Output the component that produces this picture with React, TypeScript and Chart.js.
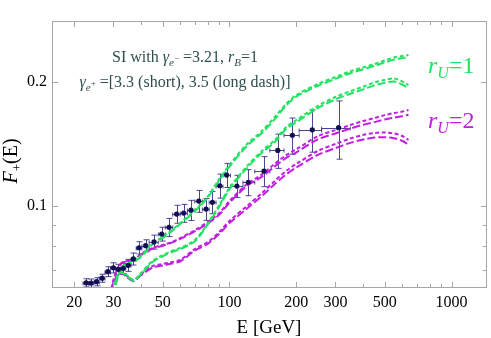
import React, { useEffect, useRef } from "react";
import { Chart, registerables } from "chart.js";

Chart.register(...registerables);

// ---- measured data (positron fraction) ----
const dataEnergy = [21.2, 22.6, 23.8, 25.2, 26.7, 28.3, 30.0, 31.6, 33.2, 35.0, 36.9, 39.1, 41.9, 45.7, 49.5, 53.4, 57.8, 62.2, 67.1, 72.7, 78.4, 83.8, 90.4, 97.1, 108, 121.5, 143, 165, 192, 236, 310];
const dataFraction = [0.0618, 0.0651, 0.065, 0.0655, 0.0668, 0.0693, 0.0708, 0.0702, 0.0706, 0.0718, 0.0744, 0.0792, 0.0801, 0.0818, 0.0855, 0.0888, 0.0956, 0.0961, 0.0977, 0.1028, 0.0983, 0.1021, 0.112, 0.1189, 0.1118, 0.1142, 0.1216, 0.1364, 0.1485, 0.1531, 0.1549];
const dataError = [0.0015, 0.0015, 0.0015, 0.0015, 0.0015, 0.0019, 0.002, 0.002, 0.002, 0.0024, 0.0025, 0.0027, 0.0027, 0.0032, 0.0033, 0.0045, 0.0048, 0.0048, 0.0055, 0.0063, 0.006, 0.0063, 0.0075, 0.008, 0.0069, 0.0083, 0.0102, 0.013, 0.015, 0.018, 0.025];
const binEdges = [20.4, 21.9, 23.2, 24.5, 25.9, 27.5, 29.1, 30.8, 32.4, 34.1, 36.0, 38.0, 40.3, 43.5, 47.8, 51.4, 55.5, 60.0, 64.6, 69.8, 75.5, 81.0, 87.0, 93.5, 101, 115, 130, 152, 176, 206, 260, 350];

// ---- model curves ----
const curveEnergy = [29, 30, 31, 32, 33, 35, 37, 40, 45, 50, 55, 60, 70, 80, 90, 100, 120, 140, 160, 180, 200, 250, 300, 350, 400, 450, 500, 550, 600, 640];
const greenUpperShort = [0.058, 0.0618, 0.0661, 0.0695, 0.0715, 0.0727, 0.0736, 0.0757, 0.0813, 0.0841, 0.0874, 0.0909, 0.0978, 0.1057, 0.1164, 0.1257, 0.1414, 0.152, 0.1645, 0.1769, 0.1859, 0.1977, 0.2056, 0.2122, 0.217, 0.2212, 0.2256, 0.2293, 0.2312, 0.2325];
const greenUpperLong = [0.057, 0.061, 0.0655, 0.069, 0.0711, 0.0723, 0.0732, 0.0753, 0.0808, 0.0836, 0.0869, 0.0904, 0.0972, 0.105, 0.1155, 0.1246, 0.14, 0.1503, 0.1625, 0.1754, 0.1843, 0.1958, 0.2035, 0.21, 0.2147, 0.2188, 0.223, 0.2266, 0.2285, 0.2298];
const greenLowerShort = [0.058, 0.0628, 0.0672, 0.0691, 0.0691, 0.0676, 0.0661, 0.0688, 0.0736, 0.076, 0.0778, 0.0791, 0.0828, 0.091, 0.1006, 0.1106, 0.125, 0.1359, 0.1446, 0.1555, 0.1617, 0.175, 0.1839, 0.1899, 0.1948, 0.1993, 0.2022, 0.204, 0.2006, 0.1966];
const greenLowerLong = [0.057, 0.062, 0.0666, 0.0687, 0.0687, 0.0672, 0.0657, 0.0684, 0.0731, 0.0755, 0.0773, 0.0786, 0.0822, 0.0903, 0.0998, 0.1097, 0.1238, 0.1346, 0.143, 0.1537, 0.1597, 0.1728, 0.1814, 0.1872, 0.1919, 0.1962, 0.199, 0.2006, 0.1972, 0.1932];
const magentaUpperShort = [0.0608, 0.0661, 0.0699, 0.0719, 0.0731, 0.0736, 0.074, 0.0765, 0.0791, 0.0804, 0.0818, 0.0836, 0.0874, 0.0915, 0.0962, 0.1028, 0.1131, 0.1193, 0.1266, 0.1329, 0.1373, 0.1477, 0.1528, 0.1572, 0.1608, 0.1635, 0.1662, 0.1681, 0.1695, 0.171];
const magentaUpperLong = [0.06, 0.0655, 0.0695, 0.0716, 0.0729, 0.0734, 0.0738, 0.0762, 0.0788, 0.0801, 0.0815, 0.0832, 0.0869, 0.0908, 0.0954, 0.1019, 0.1119, 0.1178, 0.1248, 0.1308, 0.135, 0.1451, 0.15, 0.1541, 0.1575, 0.1598, 0.1622, 0.1639, 0.1651, 0.1665];
const magentaLowerShort = [0.058, 0.0643, 0.068, 0.0688, 0.0688, 0.0672, 0.0661, 0.0684, 0.0715, 0.0723, 0.0731, 0.074, 0.0787, 0.0818, 0.0865, 0.092, 0.1, 0.1075, 0.1151, 0.1216, 0.1265, 0.136, 0.1414, 0.1458, 0.1487, 0.1504, 0.1508, 0.15, 0.1479, 0.1446];
const magentaLowerLong = [0.057, 0.0636, 0.0675, 0.0684, 0.0684, 0.0668, 0.0657, 0.0679, 0.0709, 0.0717, 0.0725, 0.0734, 0.078, 0.081, 0.0856, 0.0909, 0.0986, 0.1058, 0.1131, 0.1193, 0.124, 0.1331, 0.1382, 0.1423, 0.145, 0.1466, 0.1469, 0.1461, 0.144, 0.1407];

// ---- axes ----
const xMin = 15.87;
const xMax = 1445;
const yMin = 0.06324;
const yMax = 0.2812;
const xTickLabels = [20, 30, 50, 100, 200, 300, 500, 1000];
const xMinorTicks = [40, 60, 70, 80, 90, 400, 600, 700, 800, 900];
const yTickLabels = [0.1, 0.2];
const yMinorTicks = [0.07, 0.08, 0.09];

const GREEN = "#22e261";
const MAGENTA = "#c21ee2";
const NAVY = "#120e52";
const BAR = "rgba(48,38,128,0.85)";
const TEXT = "#2f4f4f";
const FRAME = "#a6a6a6";
const SERIF = '"Liberation Serif", "Times New Roman", serif';

type Seg = { t: string; size: number; italic?: boolean; dy?: number };

function font(s: Seg) {
  return `${s.italic ? "italic " : ""}${s.size}px ${SERIF}`;
}
function segsWidth(ctx: CanvasRenderingContext2D, segs: Seg[]) {
  let w = 0;
  for (const s of segs) {
    ctx.font = font(s);
    w += ctx.measureText(s.t).width;
  }
  return w;
}
function drawSegs(ctx: CanvasRenderingContext2D, segs: Seg[], x: number, y: number) {
  let cx = x;
  for (const s of segs) {
    ctx.font = font(s);
    ctx.fillText(s.t, cx, y + (s.dy || 0));
    cx += ctx.measureText(s.t).width;
  }
}

const decorPlugin = {
  id: "decor",
  beforeDatasetsDraw(chart: any) {
    const { ctx, chartArea: a } = chart;
    const xs = chart.scales.x;
    const ys = chart.scales.y;
    ctx.save();
    ctx.beginPath();
    ctx.rect(a.left, a.top, a.right - a.left, a.bottom - a.top);
    ctx.clip();
    ctx.strokeStyle = BAR;
    ctx.lineWidth = 1;
    for (let i = 0; i < dataEnergy.length; i++) {
      const px = Math.round(xs.getPixelForValue(dataEnergy[i])) + 0.5;
      const py = Math.round(ys.getPixelForValue(dataFraction[i])) + 0.5;
      const yt = ys.getPixelForValue(dataFraction[i] + dataError[i]);
      const yb = ys.getPixelForValue(dataFraction[i] - dataError[i]);
      const xl = xs.getPixelForValue(binEdges[i]);
      const xr = xs.getPixelForValue(binEdges[i + 1]);
      ctx.beginPath();
      ctx.moveTo(px, yt);
      ctx.lineTo(px, yb);
      ctx.moveTo(px - 3, yt);
      ctx.lineTo(px + 3, yt);
      ctx.moveTo(px - 3, yb);
      ctx.lineTo(px + 3, yb);
      ctx.moveTo(xl, py);
      ctx.lineTo(xr, py);
      ctx.moveTo(xl, py - 2);
      ctx.lineTo(xl, py + 2);
      ctx.moveTo(xr, py - 2);
      ctx.lineTo(xr, py + 2);
      ctx.stroke();
    }
    ctx.restore();
  },
  afterDraw(chart: any) {
    const { ctx, chartArea: a } = chart;
    const xs = chart.scales.x;
    const ys = chart.scales.y;
    ctx.save();
    // frame
    ctx.strokeStyle = FRAME;
    ctx.lineWidth = 1;
    ctx.strokeRect(a.left + 0.5, a.top + 0.5, a.right - a.left - 1, a.bottom - a.top - 1);
    // ticks
    ctx.beginPath();
    const xt = (v: number, len: number) => {
      const p = Math.round(xs.getPixelForValue(v)) + 0.5;
      ctx.moveTo(p, a.bottom);
      ctx.lineTo(p, a.bottom - len);
      ctx.moveTo(p, a.top);
      ctx.lineTo(p, a.top + len);
    };
    const yt = (v: number, len: number) => {
      const p = Math.round(ys.getPixelForValue(v)) + 0.5;
      ctx.moveTo(a.left, p);
      ctx.lineTo(a.left + len, p);
      ctx.moveTo(a.right, p);
      ctx.lineTo(a.right - len, p);
    };
    xTickLabels.forEach((v) => xt(v, 6));
    xMinorTicks.forEach((v) => xt(v, 4));
    yTickLabels.forEach((v) => yt(v, 6));
    yMinorTicks.forEach((v) => yt(v, 4));
    ctx.stroke();
    // tick labels
    ctx.fillStyle = "#000";
    ctx.font = `16px ${SERIF}`;
    ctx.textAlign = "center";
    ctx.textBaseline = "alphabetic";
    xTickLabels.forEach((v) => {
      ctx.fillText(String(v), xs.getPixelForValue(v), 307);
    });
    ctx.textAlign = "right";
    ctx.textBaseline = "middle";
    yTickLabels.forEach((v) => {
      ctx.fillText(String(v), a.left - 5, ys.getPixelForValue(v));
    });
    // axis titles
    ctx.textAlign = "left";
    ctx.textBaseline = "alphabetic";
    const xTitle: Seg[] = [{ t: "E [GeV]", size: 19 }];
    const xw = segsWidth(ctx, xTitle);
    drawSegs(ctx, xTitle, 269 - xw / 2, 333);
    const yTitle: Seg[] = [
      { t: "F", size: 20, italic: true },
      { t: "+", size: 13, dy: 4 },
      { t: "(E)", size: 20 },
    ];
    const yw = segsWidth(ctx, yTitle);
    ctx.save();
    ctx.translate(17, 161);
    ctx.rotate(-Math.PI / 2);
    drawSegs(ctx, yTitle, -yw / 2, 0);
    ctx.restore();
    // annotation text
    ctx.fillStyle = TEXT;
    const line1: Seg[] = [
      { t: "SI with ", size: 16 },
      { t: "γ", size: 16, italic: true },
      { t: "e", size: 11, italic: true, dy: 4 },
      { t: "−", size: 9, dy: -1 },
      { t: " =3.21, ", size: 16 },
      { t: "r", size: 16, italic: true },
      { t: "B", size: 11, italic: true, dy: 4 },
      { t: "=1", size: 16 },
    ];
    const line2: Seg[] = [
      { t: "γ", size: 16, italic: true },
      { t: "e", size: 11, italic: true, dy: 4 },
      { t: "+", size: 9, dy: -1 },
      { t: " =[3.3 (short), 3.5 (long dash)]", size: 16 },
    ];
    const w1 = segsWidth(ctx, line1);
    drawSegs(ctx, line1, 185 - w1 / 2, 62);
    const w2 = segsWidth(ctx, line2);
    drawSegs(ctx, line2, 185 - w2 / 2, 87);
    // r_U labels
    ctx.fillStyle = GREEN;
    drawSegs(ctx, [
      { t: "r", size: 24, italic: true },
      { t: "U", size: 16, italic: true, dy: 5 },
      { t: "=1", size: 24 },
    ], 428, 73);
    ctx.fillStyle = MAGENTA;
    drawSegs(ctx, [
      { t: "r", size: 24, italic: true },
      { t: "U", size: 16, italic: true, dy: 5 },
      { t: "=2", size: 24 },
    ], 428, 128);
    ctx.restore();
  },
};

function curve(values: number[], color: string, dash: number[]) {
  return {
    data: curveEnergy.map((e, i) => ({ x: e, y: values[i] })),
    showLine: true,
    pointRadius: 0,
    borderColor: color,
    borderWidth: 2,
    borderDash: dash,
    backgroundColor: color,
    fill: false,
    tension: 0.3,
    clip: 0,
  };
}

const SHORT = [4, 2.5];
const LONG = [8, 3];

export default function App() {
  const ref = useRef<HTMLCanvasElement | null>(null);
  useEffect(() => {
    if (!ref.current) return;
    const chart = new Chart(ref.current, {
      type: "scatter",
      data: {
        datasets: [
          {
            data: dataEnergy.map((e, i) => ({ x: e, y: dataFraction[i] })),
            pointRadius: 2.6,
            pointBackgroundColor: NAVY,
            pointBorderWidth: 0,
            showLine: false,
            clip: 0,
          } as any,
          curve(greenUpperShort, GREEN, SHORT),
          curve(greenUpperLong, GREEN, LONG),
          curve(greenLowerShort, GREEN, SHORT),
          curve(greenLowerLong, GREEN, LONG),
          curve(magentaUpperShort, MAGENTA, SHORT),
          curve(magentaUpperLong, MAGENTA, LONG),
          curve(magentaLowerShort, MAGENTA, SHORT),
          curve(magentaLowerLong, MAGENTA, LONG),
        ],
      },
      options: {
        responsive: false,
        animation: false,
        devicePixelRatio: 1,
        layout: { padding: { left: 52, right: 4, top: 21, bottom: 50 } },
        plugins: { legend: { display: false }, tooltip: { enabled: false } },
        scales: {
          x: { type: "logarithmic", min: xMin, max: xMax, display: false },
          y: { type: "logarithmic", min: yMin, max: yMax, display: false },
        },
      },
      plugins: [decorPlugin],
    } as any);
    return () => chart.destroy();
  }, []);
  return (
    <div style={{ position: "fixed", left: 0, top: 0, width: 491, height: 338, background: "#fff" }}>
      <canvas ref={ref} width={491} height={338} style={{ display: "block" }} />
    </div>
  );
}
